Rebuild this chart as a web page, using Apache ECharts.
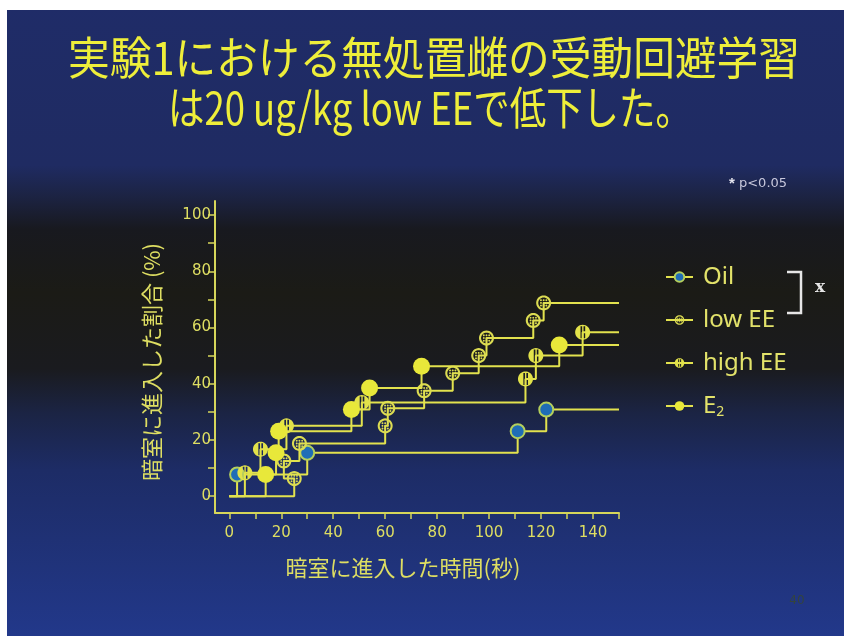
<!DOCTYPE html>
<html><head><meta charset="utf-8">
<script src="https://cdn.jsdelivr.net/npm/echarts@6/dist/echarts.min.js"></script>
<style>html,body{margin:0;padding:0;background:#fff}#chart{width:844px;height:636px}</style>
</head><body><div id="chart"></div>
<script>
// Time (s) at which each animal entered the dark room and the cumulative % entered
const oilTime = [3, 30, 111, 122];
const oilPct = [7.7, 15.4, 23.1, 30.8];
const lowTime = [25, 21, 27, 60, 61, 75, 86, 96, 99, 117, 121];
const lowPct = [6.25, 12.5, 18.75, 25, 31.25, 37.5, 43.75, 50, 56.25, 62.5, 68.75];
const highTime = [6, 12, 22, 51, 114, 118, 136];
const highPct = [8.3, 16.7, 25, 33.3, 41.7, 50, 58.3];
const e2Time = [14, 18, 19, 47, 54, 74, 127];
const e2Pct = [7.7, 15.4, 23.1, 30.8, 38.5, 46.2, 53.8];
const groupNames = ['Oil', 'low EE', 'high EE', 'E2'];
const endTime = 150;

const xTicks = [0, 10, 20, 30, 40, 50, 60, 70, 80, 90, 100, 110, 120, 130, 140, 150];
const xLabels = [0, 20, 40, 60, 80, 100, 120, 140];
const yTicks = [0, 10, 20, 30, 40, 50, 60, 70, 80, 90, 100];
const yLabels = [0, 20, 40, 60, 80, 100];

const titleLine1 = '実験1における無処置雌の受動回避学習';
const titleLine2 = 'は20 ug/kg low EEで低下した。';
const xName = '暗室に進入した時間(秒)';
const yName = '暗室に進入した割合 (%)';

const YEL = '#e2e24e';
const AXIS = '#d6d65a';
const TXT = '#dede62';
const JP = "'Noto Sans CJK JP'";

// polygon circle; ccw=true gives the opposite winding so it cuts a hole
function circ(cx, cy, r, ccw, n) {
  n = n || 32;
  let s = '';
  for (let i = 0; i < n; i++) {
    const a = (ccw ? -1 : 1) * 2 * Math.PI * i / n;
    s += (i ? 'L' : 'M') + (cx + r * Math.cos(a)).toFixed(2) + ' ' + (cy + r * Math.sin(a)).toFixed(2) + ' ';
  }
  return s + 'Z ';
}
function rectHole(x, y, w, h) {
  return 'M' + x + ' ' + y + ' L' + x + ' ' + (y + h) + ' L' + (x + w) + ' ' + (y + h) + ' L' + (x + w) + ' ' + y + ' Z ';
}
// dotted marker: ring with a 3x3 grid of dots
let dotted = circ(50, 50, 50, false) + circ(50, 50, 36, true);
[-18, 0, 18].forEach(dx => [-18, 0, 18].forEach(dy => { dotted += circ(50 + dx, 50 + dy, 6.5, false, 12); }));
// striped marker: disc with two vertical slots
const striped = circ(50, 50, 50, false) + rectHole(36, 10, 11, 80) + rectHole(56, 10, 11, 80);

function steps(t, p) {
  const d = [{ value: [0, 0], symbol: 'none' }];
  t.forEach((x, i) => d.push([x, p[i]]));
  d.push({ value: [endTime, p[p.length - 1]], symbol: 'none' });
  return d;
}
function lineSeries(name, t, p, symbol, size, itemStyle, z) {
  return {
    name, type: 'line', step: 'end', data: steps(t, p), z,
    symbol, symbolSize: size, showAllSymbol: true,
    lineStyle: { color: YEL, width: 2 },
    itemStyle, emphasis: { disabled: true }
  };
}

function fitScale(text, font, width) {
  const ctx = document.createElement('canvas').getContext('2d');
  ctx.font = font;
  return width / ctx.measureText(text).width;
}
const tFont = 'normal normal 45px ' + JP;

const chart = echarts.init(document.getElementById('chart'), null, { renderer: 'canvas' });
chart.setOption({
  animation: false,
  graphic: [
    { type: 'rect', z: -100, shape: { x: 0, y: 0, width: 844, height: 636 }, silent: true,
      style: { fill: new echarts.graphic.LinearGradient(0, 0, 0, 1, [
        { offset: 0, color: '#1f2c68' },
        { offset: 0.26, color: '#1f2b62' },
        { offset: 0.31, color: '#1c2342' },
        { offset: 0.36, color: '#18191f' },
        { offset: 0.46, color: '#1b1b16' },
        { offset: 0.58, color: '#1a1b1f' },
        { offset: 0.65, color: '#1b2444' },
        { offset: 0.74, color: '#1d2c66' },
        { offset: 1, color: '#22388a' }
      ]) } },
    { type: 'rect', z: 50, shape: { x: 0, y: 0, width: 844, height: 10 }, style: { fill: '#ffffff' }, silent: true },
    { type: 'rect', z: 50, shape: { x: 0, y: 0, width: 7, height: 636 }, style: { fill: '#ffffff' }, silent: true },
    { type: 'text', x: 434, y: 58, scaleX: fitScale(titleLine1, tFont, 732), z: 10,
      style: { text: titleLine1, font: tFont, fill: '#eeee3a', align: 'center', verticalAlign: 'middle' } },
    { type: 'text', x: 430, y: 108, scaleX: fitScale(titleLine2, tFont, 524), z: 10,
      style: { text: titleLine2, font: tFont, fill: '#eeee3a', align: 'center', verticalAlign: 'middle' } },
    { type: 'text', x: 729, y: 184, z: 10,
      style: { text: '{s|*} p<0.05', fill: '#c8c8dc', font: '13px DejaVu Sans', verticalAlign: 'middle',
        rich: { s: { fontSize: 15, fontWeight: 'bold', fill: '#e4e4ee' } } } },
    { type: 'polyline', z: 10, shape: { points: [[787, 272], [801, 272], [801, 313], [787, 313]] },
      style: { stroke: '#e6e6e6', lineWidth: 2.5, fill: null } },
    { type: 'text', x: 820, y: 288, z: 10,
      style: { text: 'x', font: 'bold 17px DejaVu Serif', fill: '#e6e6e6', align: 'center', verticalAlign: 'middle' } },
    { type: 'text', x: 797, y: 601, z: 10,
      style: { text: '40', font: '12px DejaVu Sans', fill: '#34443e', align: 'center', verticalAlign: 'middle' } }
  ],
  grid: { left: 215, right: 225, top: 201, bottom: 123, containLabel: false },
  xAxis: {
    type: 'value', min: -5.5, max: 150,
    name: xName, nameLocation: 'middle', nameGap: 44,
    nameTextStyle: { color: TXT, fontSize: 22, fontFamily: JP, padding: [0, 28, 0, 0] },
    axisLine: { show: true, onZero: false, lineStyle: { color: AXIS, width: 2 } },
    axisTick: { show: true, customValues: xTicks, length: 6, lineStyle: { color: AXIS, width: 1.5 } },
    axisLabel: { customValues: xLabels, color: TXT, fontSize: 15, fontFamily: 'DejaVu Sans', margin: 13 },
    splitLine: { show: false }
  },
  yAxis: {
    type: 'value', min: -6, max: 105,
    name: yName, nameLocation: 'middle', nameGap: 52, nameRotate: 90,
    nameTextStyle: { color: TXT, fontSize: 22, fontFamily: JP, padding: [0, 10, 0, 0] },
    axisLine: { show: true, onZero: false, lineStyle: { color: AXIS, width: 2 } },
    axisTick: { show: true, customValues: yTicks, length: 7, lineStyle: { color: AXIS, width: 1.5 } },
    axisLabel: { customValues: yLabels, color: TXT, fontSize: 15, fontFamily: 'DejaVu Sans', margin: 4 },
    splitLine: { show: false }
  },
  legend: {
    orient: 'vertical', left: 660, top: 260, itemWidth: 27, itemHeight: 12, itemGap: 19,
    data: groupNames,
    formatter: n => n === 'E2' ? 'E{sub|2}' : n,
    textStyle: { color: '#e2e26a', fontSize: 24, lineHeight: 24, fontFamily: 'Noto Sans', padding: [0, 0, 0, 5],
      rich: { sub: { fontSize: 14, color: '#e2e26a', fontFamily: 'Noto Sans', padding: [12, 0, 0, 0] } } },
    selectedMode: false
  },
  series: [
    lineSeries('Oil', oilTime, oilPct, 'circle', 14, { color: '#1f6db6', borderColor: '#b4cf5c', borderWidth: 2 }, 3),
    lineSeries('low EE', lowTime, lowPct, 'path://' + dotted, 15, { color: '#dcdc52', borderWidth: 0 }, 4),
    lineSeries('high EE', highTime, highPct, 'path://' + striped, 15, { color: '#e2e24a', borderWidth: 0 }, 5),
    lineSeries('E2', e2Time, e2Pct, 'circle', 17, { color: '#e8e83a', borderWidth: 0 }, 6)
  ]
});
</script></body></html>
